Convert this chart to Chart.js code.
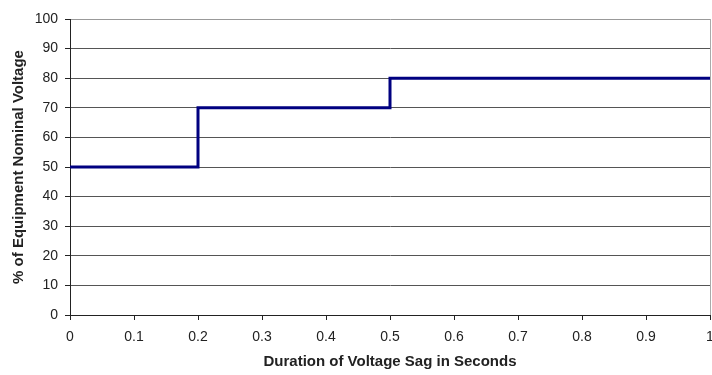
<!DOCTYPE html>
<html>
<head>
<meta charset="utf-8">
<script src="https://cdn.jsdelivr.net/npm/chart.js@4/dist/chart.umd.min.js"></script>
<style>
html,body{margin:0;padding:0;background:#fff;}
#wrap{width:712px;height:375px;}
</style>
</head>
<body>
<div id="wrap"><canvas id="c" width="712" height="375"></canvas></div>
<script>
const durations = [0, 0.2, 0.5, 1];
const voltages = [50, 70, 80, 80];
const xTitle = 'Duration of Voltage Sag in Seconds';
const yTitle = '% of Equipment Nominal Voltage';

const points = durations.map((d, i) => ({x: d, y: voltages[i]}));

new Chart(document.getElementById('c'), {
  type: 'line',
  data: {
    datasets: [{
      data: points,
      stepped: 'before',
      borderColor: '#000080',
      borderWidth: 3,
      pointRadius: 0,
      fill: false
    }]
  },
  options: {
    responsive: false,
    animation: false,
    layout: {padding: {top: 19, right: 2, left: 0, bottom: 0}},
    plugins: {legend: {display: false}, tooltip: {enabled: false}},
    scales: {
      x: {
        type: 'linear',
        min: 0, max: 1,
        ticks: {
          stepSize: 0.1,
          color: '#222',
          font: {family: 'Liberation Sans', size: 14},
          padding: 9,
          maxRotation: 0,
          callback: v => Math.round(v * 10) / 10
        },
        grid: {
          color: ctx => ctx.tick && ctx.tick.value === 1 ? '#aaa' : 'rgba(0,0,0,0)',
          tickColor: '#222',
          tickLength: 5,
          lineWidth: 1
        },
        border: {color: '#222', width: 1},
        title: {
          display: true,
          text: xTitle,
          color: '#222',
          font: {family: 'Liberation Sans', size: 15, weight: 'bold'},
          padding: {top: 4, bottom: 4}
        },
        afterFit: s => { s.height = 60; s.paddingRight = 0; s.paddingLeft = 0; }
      },
      y: {
        min: 0, max: 100,
        ticks: {
          stepSize: 10,
          color: '#222',
          font: {family: 'Liberation Sans', size: 14},
          padding: 7
        },
        grid: {
          color: ctx => ctx.tick && ctx.tick.value === 100 ? '#999' : '#555',
          tickColor: '#222',
          tickLength: 5,
          lineWidth: 1
        },
        border: {color: '#222', width: 1},
        title: {
          display: true,
          text: yTitle,
          color: '#222',
          font: {family: 'Liberation Sans', size: 15, weight: 'bold'},
          padding: {top: 9.5, bottom: 4}
        },
        afterFit: s => { s.width = 70; s.paddingTop = 0; s.paddingBottom = 0; }
      }
    }
  }
});
</script>
</body>
</html>
